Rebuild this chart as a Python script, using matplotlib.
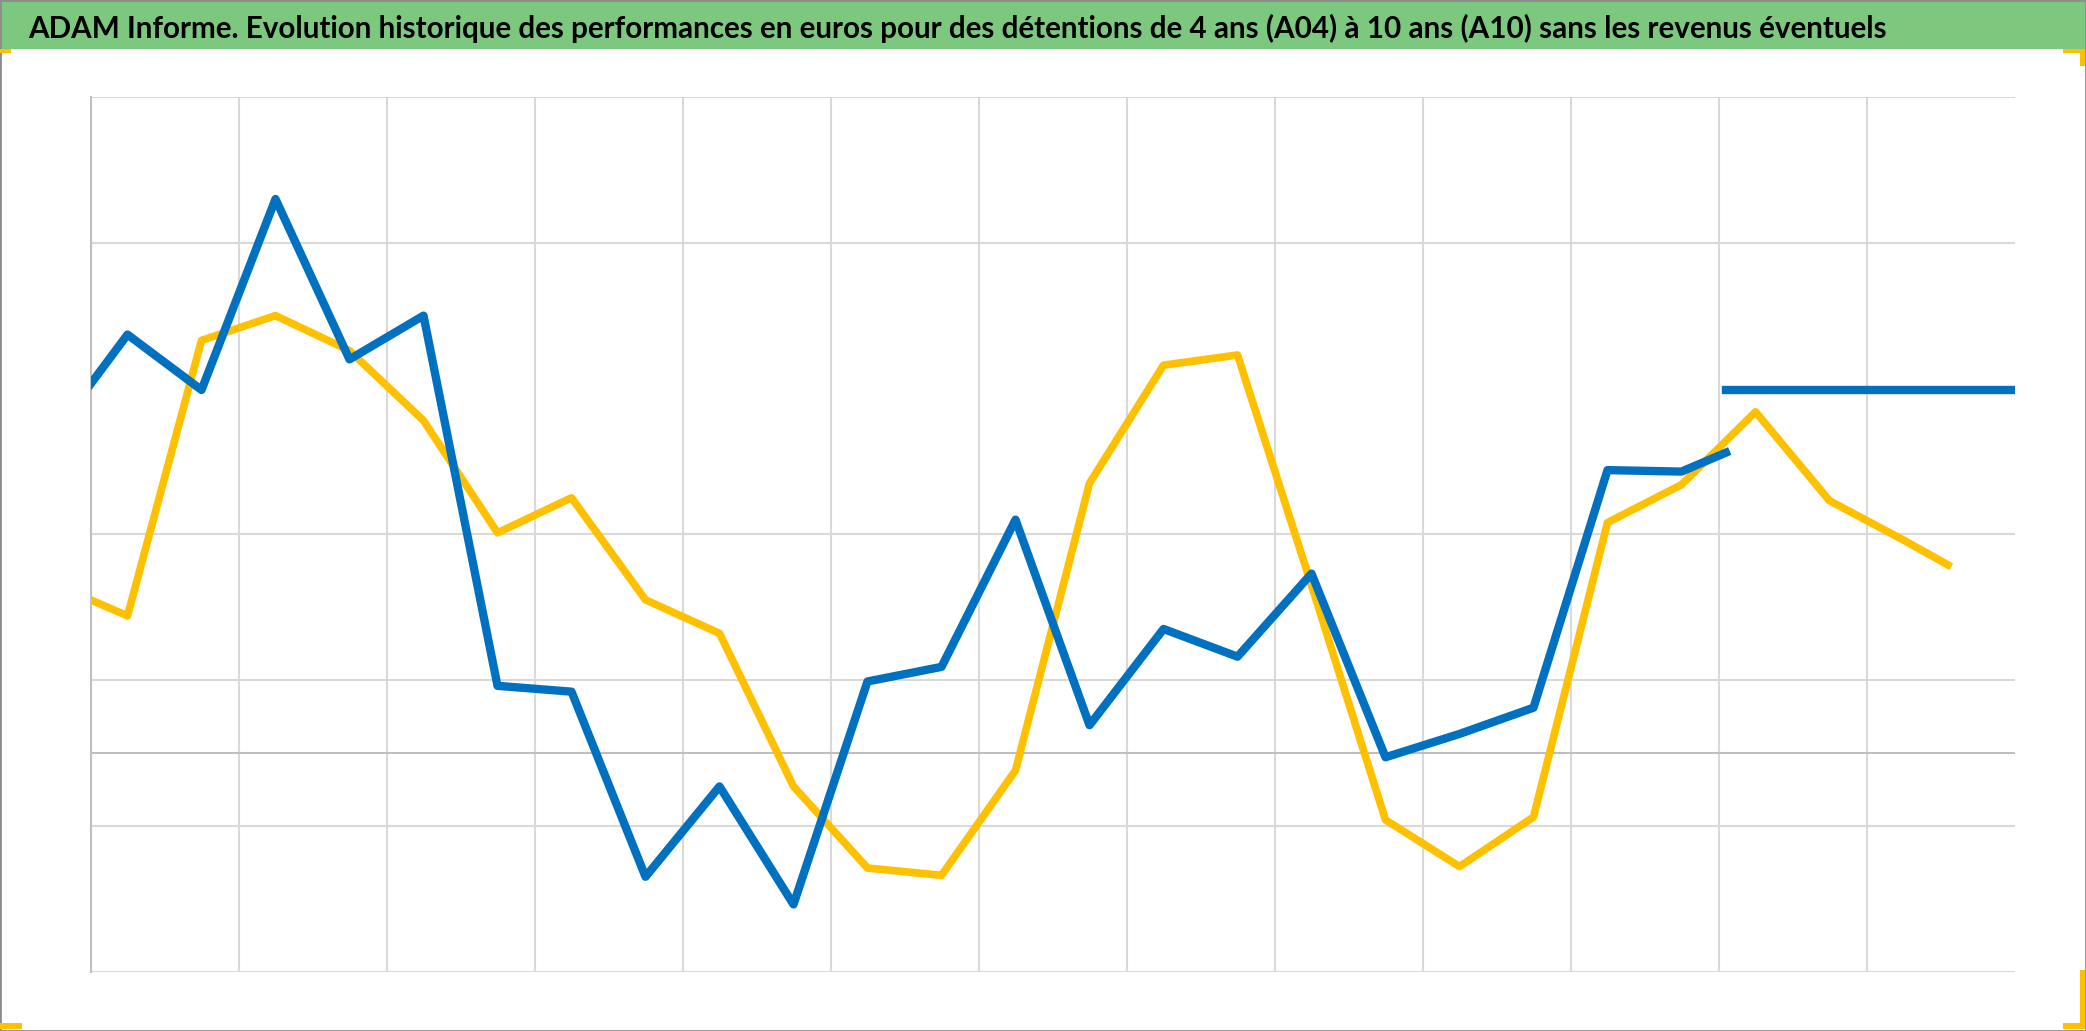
import matplotlib
matplotlib.use("Agg")
import matplotlib.pyplot as plt
from matplotlib.patches import Rectangle

# data (x in half-year steps of the axis, y in %)
blue_x = [0, 0.5, 1.5, 2.5, 3.5, 4.5, 5.5, 6.5, 7.5, 8.5, 9.5, 10.5, 11.5,
          12.5, 13.5, 14.5, 15.5, 16.5, 17.5, 18.5, 19.5, 20.5, 21.5, 22.1]
blue_y = [25.3, 28.7, 24.9, 38.0, 27.0, 30.0, 4.6, 4.2, -8.5, -2.3, -10.4, 4.9, 5.9,
          16.0, 1.9, 8.5, 6.6, 12.3, -0.3, 1.3, 3.1, 19.4, 19.3, 20.6]

blue_flat_x = [22.1, 26.0]
blue_flat_y = [24.9, 24.9]

yellow_x = [0, 0.5, 1.5, 2.5, 3.5, 4.5, 5.5, 6.5, 7.5, 8.5, 9.5, 10.5, 11.5,
            12.5, 13.5, 14.5, 15.5, 16.5, 17.5, 18.5, 19.5, 20.5, 21.5, 22.5,
            23.5, 24.5, 25.1]
yellow_y = [10.5, 9.4, 28.3, 30.0, 27.6, 22.8, 15.1, 17.5, 10.5, 8.2, -2.3, -7.9, -8.4,
            -1.2, 18.5, 26.6, 27.3, 11.5, -4.6, -7.8, -4.4, 15.8, 18.4, 23.4,
            17.3, 14.6, 12.9]

x_grid = [0, 2, 4, 6, 8, 10, 12, 14, 16, 18, 20, 22, 24]
y_grid = [-15, -5, 5, 15, 35, 45]

title = ("ADAM Informe. Evolution historique des performances en euros pour des "
         "détentions de 4 ans (A04) à 10 ans (A10) sans les revenus éventuels")

fig = plt.figure(figsize=(20.86, 10.31), dpi=100)
fig.patch.set_facecolor("white")

# green title band
fig.patches.append(Rectangle((0, 1 - 49 / 1031), 1, 49 / 1031, transform=fig.transFigure,
                             facecolor="#7DC87F", edgecolor="none", zorder=0))
t = fig.text(28 / 2086, 1 - 38 / 1031, title, fontsize=24, fontweight="bold",
             family=["Lato", "DejaVu Sans"], color="black",
             va="baseline", ha="left")
fig.canvas.draw()
w = t.get_window_extent().width
t.set_fontsize(24 * 1860 / w)

ax = fig.add_axes([90.5 / 2086, 1 - 971.5 / 1031, 1924 / 2086, 874.5 / 1031])
ax.set_xlim(0, 26)
ax.set_ylim(-15, 45)
ax.set_xticks(x_grid)
ax.set_yticks(y_grid)
ax.tick_params(length=0, labelbottom=False, labelleft=False)
ax.grid(True, color="#D9D9D9", linewidth=1.5)
ax.set_axisbelow(True)
for s in ["top", "right", "bottom"]:
    ax.spines[s].set_visible(False)
ax.spines["left"].set_color("#BFBFBF")
ax.spines["left"].set_linewidth(1.5)
ax.axhline(0, color="#BFBFBF", linewidth=1.5, zorder=1)

ax.plot(yellow_x, yellow_y, color="#FFC000", linewidth=5.5, zorder=3)
ax.plot(blue_x, blue_y, color="#0070C0", linewidth=6, zorder=4)
ax.plot(blue_flat_x, blue_flat_y, color="#0070C0", linewidth=6, zorder=4)

# frame and selection handles
fig.patches.append(Rectangle((0, 0), 1, 1, transform=fig.transFigure, fill=False,
                             edgecolor="#8C8C8C", linewidth=2, zorder=5))
handles = [(0, 1 - 53 / 1031, 11, 4), (2063, 1 - 53 / 1031, 22, 4), (2080, 1 - 66 / 1031, 5, 17),
           (0, 2 / 1031, 22, 6), (2063, 2 / 1031, 22, 6), (2080, 2 / 1031, 5, 59)]
for hx, hy, hw, hh in handles:
    fig.patches.append(Rectangle((hx / 2086, hy), hw / 2086, hh / 1031, transform=fig.transFigure,
                                 facecolor="#FFC000", edgecolor="none", zorder=6))

fig.savefig("out.png", dpi=100)
